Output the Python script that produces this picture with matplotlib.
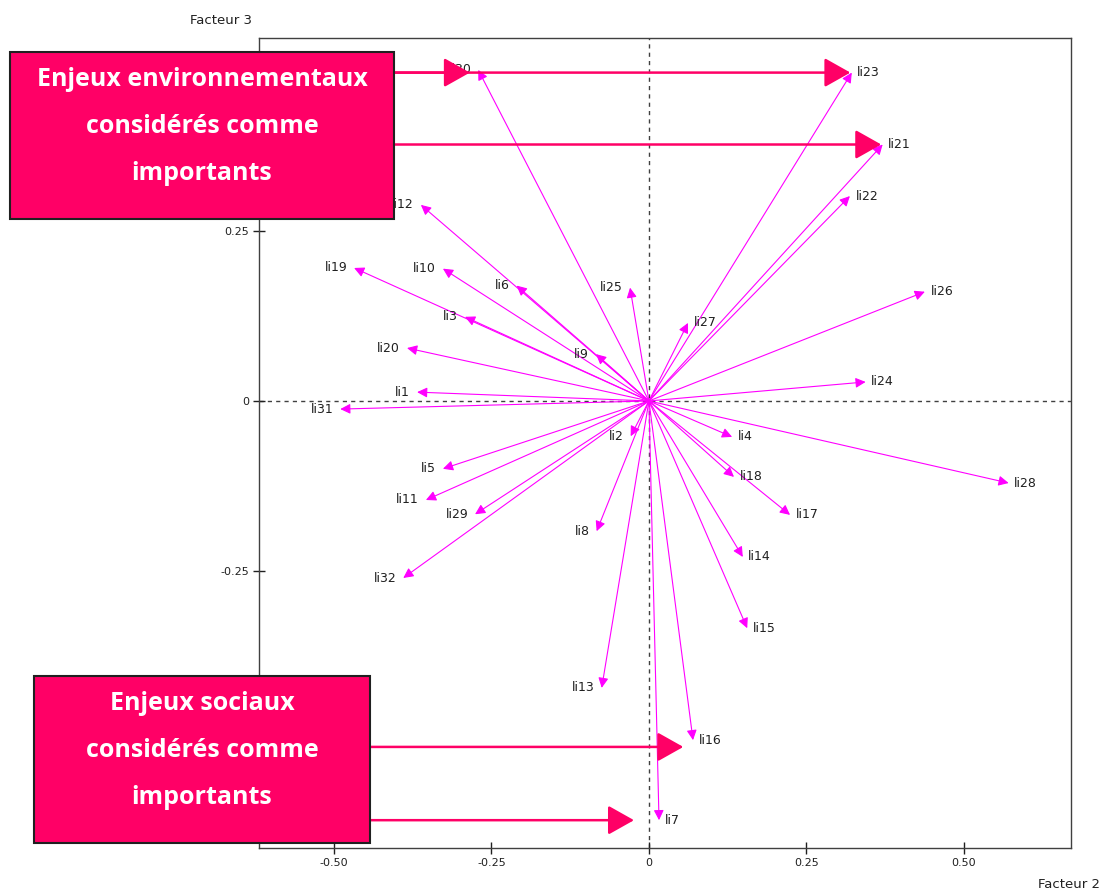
import matplotlib
matplotlib.use("Agg")
import matplotlib.pyplot as plt
from matplotlib.patches import Rectangle

plt.rcParams['axes.unicode_minus'] = False
plt.rcParams['font.family'] = ['DejaVu Sans']

# Coordinates of the variables on factors 2 and 3
labels = ['li1', 'li2', 'li3', 'li4', 'li5', 'li6', 'li7', 'li8', 'li9', 'li10',
          'li11', 'li12', 'li13', 'li14', 'li15', 'li16', 'li17', 'li18', 'li19', 'li20',
          'li21', 'li22', 'li23', 'li24', 'li25', 'li26', 'li27', 'li28', 'li29', 'li30',
          'li31', 'li32']
fact2 = [-0.368, -0.029, -0.292, 0.132, -0.327, -0.210, 0.016, -0.083, -0.084, -0.327,
         -0.354, -0.362, -0.075, 0.149, 0.156, 0.070, 0.224, 0.135, -0.468, -0.384,
         0.371, 0.319, 0.322, 0.344, -0.030, 0.438, 0.062, 0.571, -0.276, -0.271,
         -0.490, -0.390]
fact3 = [0.013, -0.052, 0.124, -0.053, -0.100, 0.170, -0.618, -0.192, 0.069, 0.195,
         -0.146, 0.289, -0.423, -0.230, -0.335, -0.500, -0.168, -0.112, 0.196, 0.078,
         0.378, 0.302, 0.484, 0.028, 0.167, 0.161, 0.115, -0.121, -0.167, 0.488,
         -0.012, -0.261]

xticks = [-0.50, -0.25, 0, 0.25, 0.50]
xtick_labels = ['-0.50', '-0.25', '0', '0.25', '0.50']
yticks = [-0.25, 0, 0.25]
ytick_labels = ['-0.25', '0', '0.25']

env_text = "Enjeux environnementaux\nconsidérés comme\nimportants"
soc_text = "Enjeux sociaux\nconsidérés comme\nimportants"

W, H = 1103, 894
fig = plt.figure(figsize=(W / 100, H / 100), dpi=100)
ax = fig.add_axes([259 / W, 1 - 848 / H, (1071 - 259) / W, (848 - 38) / H])
ax.set_xlim(-0.619, 0.670)
ax.set_ylim(-0.659, 0.535)

for s in ax.spines.values():
    s.set_color('#404040')
    s.set_linewidth(1)

ax.axhline(0, color='#404040', ls=(0, (3, 3)), lw=1, zorder=1)
ax.axvline(0, color='#404040', ls=(0, (3, 3)), lw=1, zorder=1)

ax.set_xticks(xticks)
ax.set_xticklabels(xtick_labels)
ax.set_yticks(yticks)
ax.set_yticklabels(ytick_labels)
ax.tick_params(direction='inout', length=8, width=1, color='#202020',
               labelsize=8, labelcolor='#202020', pad=3)

# variable arrows
for lab, x, y in zip(labels, fact2, fact3):
    ax.annotate('', xy=(x, y), xytext=(0, 0),
                arrowprops=dict(arrowstyle='-|>,head_length=0.6,head_width=0.3',
                                color='#FF00FF', lw=0.8, shrinkA=0, shrinkB=0,
                                mutation_scale=10), zorder=2)
    if x >= 0:
        ax.annotate(lab, (x, y), xytext=(4, 0), textcoords='offset points',
                    ha='left', va='center', fontsize=9, color='#202020')
    else:
        ax.annotate(lab, (x, y), xytext=(-5, 0), textcoords='offset points',
                    ha='right', va='center', fontsize=9, color='#202020')

pink = '#FF0066'


def pink_arrow(target, y, start_x, shrink):
    ax.annotate('', xy=(target, y), xycoords='data',
                xytext=(start_x, y), textcoords=('figure fraction', 'data'),
                arrowprops=dict(arrowstyle='-|>,head_length=0.8,head_width=0.45',
                                color=pink, lw=1.8, shrinkA=0, shrinkB=shrink,
                                mutation_scale=20, clip_on=False),
                annotation_clip=False, zorder=5)


i = {lab: k for k, lab in enumerate(labels)}
pink_arrow(fact2[i['li30']], fact3[i['li23']], 394 / W, 6)
pink_arrow(fact2[i['li23']], fact3[i['li23']], 394 / W, 1)
pink_arrow(fact2[i['li21']], fact3[i['li21']], 394 / W, 1)
pink_arrow(fact2[i['li16']], fact3[i['li16']] - 0.01, 370 / W, 7)
pink_arrow(fact2[i['li7']], fact3[i['li7']], 370 / W, 18)

# boxes
for (x0, y0, x1, y1), txt in [((10, 52, 394, 219), env_text),
                              ((34, 676, 370, 843), soc_text)]:
    fig.add_artist(Rectangle((x0 / W, 1 - y1 / H), (x1 - x0) / W, (y1 - y0) / H,
                             transform=fig.transFigure, facecolor=pink,
                             edgecolor='#202020', lw=1.5, zorder=6))
    fig.text((x0 + x1) / 2 / W, 1 - ((y0 + y1) / 2 - 9) / H, txt,
             ha='center', va='center', color='white', fontsize=18,
             fontweight='bold', family='Open Sans', linespacing=2.15, zorder=7)

fig.text(190 / W, 1 - 20 / H, 'Facteur 3', ha='left', va='center',
         fontsize=9.5, color='#202020')
fig.text(1100 / W, 1 - 885 / H, 'Facteur 2', ha='right', va='center',
         fontsize=9.5, color='#202020')

fig.savefig('out.png', dpi=100)
